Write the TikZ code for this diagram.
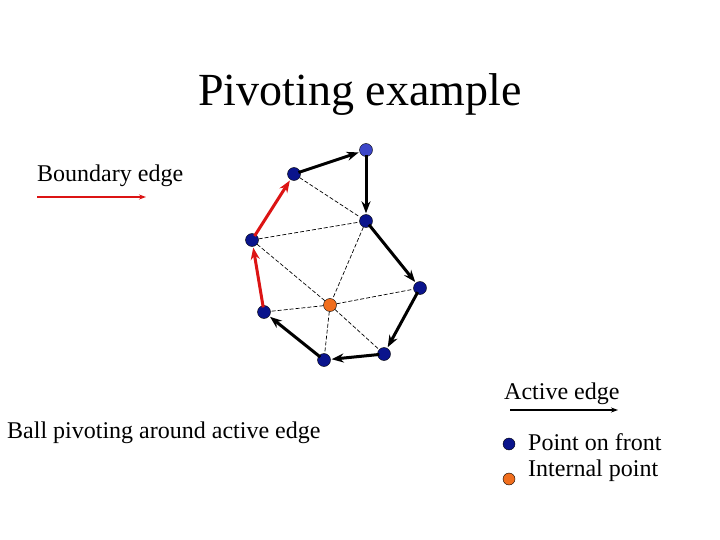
\documentclass[tikz,border=0pt]{standalone}
\usepackage{fontspec}
\setmainfont{Liberation Serif}
\usepackage{tikz}
\usetikzlibrary{arrows.meta, positioning}
\definecolor{colorFront}{RGB}{10,20,140}
\definecolor{colorFirst}{RGB}{60,70,200}
\definecolor{colorInternal}{RGB}{240,110,30}
\definecolor{colorBoundary}{RGB}{220,20,20}
\tikzset{
  pt/.style={circle, draw=black, fill=colorFront, inner sep=0pt, minimum size=13pt},
  front/.style={-{Stealth[length=12pt,width=9pt]}, line width=3pt, shorten >=1pt, shorten <=-2pt},
  bound/.style={front, colorBoundary},
  tri/.style={dashed, dash pattern=on 4pt off 2pt, line width=0.7pt},
  lbl/.style={font=\fontsize{24}{27}\selectfont, inner sep=0pt}
}
\begin{document}
\begin{tikzpicture}[x=1pt, y=-1pt]
\useasboundingbox (0,0) rectangle (720,540);
\node[font=\fontsize{46}{50}\selectfont] (title) at (360,95) {Pivoting example};
% mesh points
\node[pt] (a) at (294,174) {};
\node[pt, fill=colorFirst] (b) at (366,150) {};
\node[pt] (c) at (366,221) {};
\node[pt] (d) at (420,288) {};
\node[pt] (e) at (384,354) {};
\node[pt] (f) at (324,360) {};
\node[pt] (g) at (264,312) {};
\node[pt] (h) at (252,240) {};
\node[pt, fill=colorInternal] (o) at (330,305) {};
% triangulation
\foreach \u/\v in {a/c, h/c, h/o, c/o, o/d, o/g, o/f, o/e}
  \draw[tri] (\u) -- (\v);
% front
\foreach \u/\v in {a/b, b/c, c/d, d/e, e/f, f/g}
  \draw[front] (\u) -- (\v);
\draw[bound] (g) -- (h);
\draw[bound] (h) -- (a);
% legend
\node[lbl, anchor=west] (bdy) at (37,176) {Boundary edge};
\coordinate (bdyA) at (37,197);
\coordinate (bdyB) at (146,197);
\draw[-{Stealth[length=7pt,width=5pt]}, colorBoundary, line width=1.6pt] (bdyA) -- (bdyB);
\node[lbl, anchor=west] (act) at (504,394) {Active edge};
\coordinate (actA) at (510,410);
\coordinate (actB) at (618,410);
\draw[-{Stealth[length=7pt,width=5pt]}, line width=1.6pt] (actA) -- (actB);
\node[lbl, anchor=west] (ball) at (7,433) {Ball pivoting around active edge};
\node[pt, minimum size=12pt] (lf) at (509,444) {};
\node[lbl, anchor=west] (lft) at (528,442) {Point on front};
\node[pt, minimum size=12pt, fill=colorInternal] (li) at (509,479) {};
\node[lbl, anchor=west] (lit) at (528,471) {Internal point};
\end{tikzpicture}
\end{document}
